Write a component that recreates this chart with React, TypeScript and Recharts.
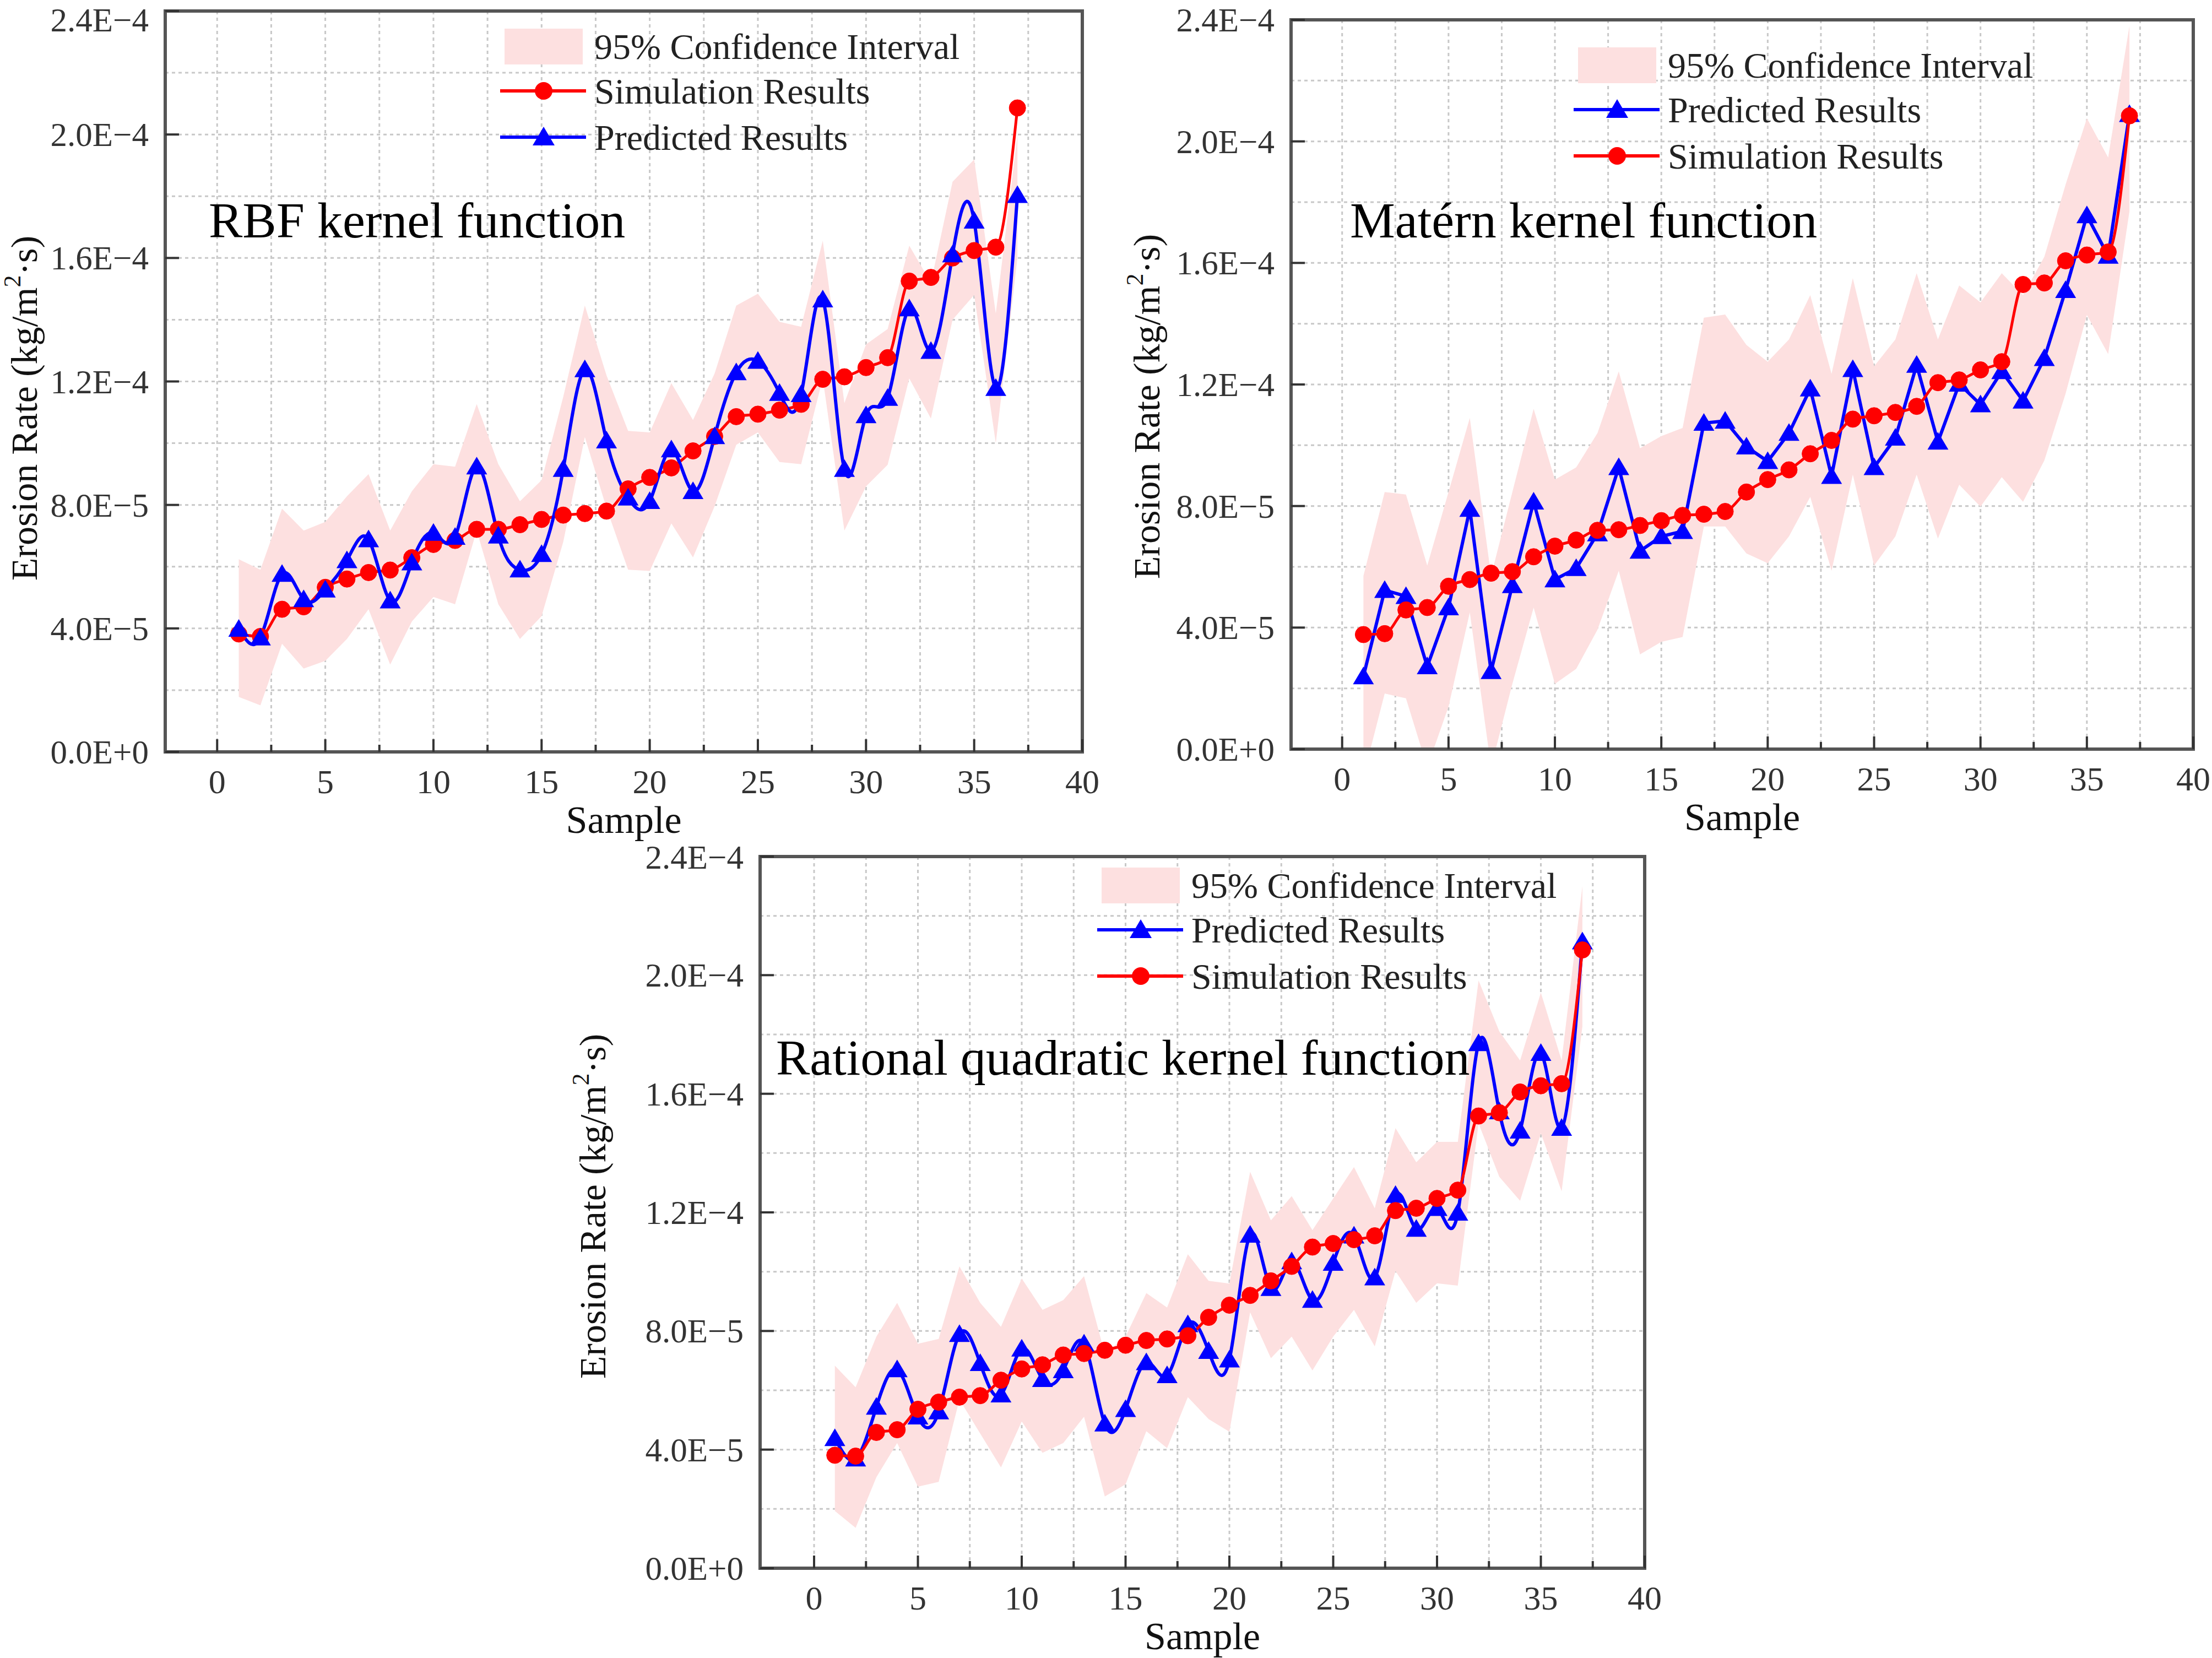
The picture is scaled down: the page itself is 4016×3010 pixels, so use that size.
import { Area, CartesianGrid, ComposedChart, Line, ReferenceArea, XAxis, YAxis } from 'recharts'

const serif = '"Liberation Serif", "Times New Roman", Times, serif'
const red = '#ff0000'
const blue = '#0000ff'
const pink = '#fde0e0'
const frameGray = '#555555'
const tickGray = '#333333'

// sample index on the x axis
const samples = [
  1, 2, 3, 4, 5, 6, 7, 8, 9, 10, 11, 12, 13, 14, 15, 16, 17, 18, 19, 20, 21, 22, 23, 24, 25, 26, 27,
  28, 29, 30, 31, 32, 33, 34, 35, 36, 37,
]

const xTicks = [0, 2.5, 5, 7.5, 10, 12.5, 15, 17.5, 20, 22.5, 25, 27.5, 30, 32.5, 35, 37.5, 40]
const xTickLabels = ['0', '5', '10', '15', '20', '25', '30', '35', '40']
// y values are stored in units of 1E-5 kg/(m²·s)
const yTicks = [0, 2, 4, 6, 8, 10, 12, 14, 16, 18, 20, 22, 24]
const yTickLabels = ['0.0E+0', '4.0E−5', '8.0E−5', '1.2E−4', '1.6E−4', '2.0E−4', '2.4E−4']

const ciLabel = '95% Confidence Interval'
const simLabel = 'Simulation Results'
const predLabel = 'Predicted Results'

// RBF kernel
const rbfSim = [
  3.82, 3.74, 4.62, 4.7, 5.33, 5.6, 5.81, 5.89, 6.29, 6.72, 6.85, 7.21, 7.21, 7.36, 7.53, 7.67, 7.72,
  7.8, 8.52, 8.89, 9.2, 9.75, 10.22, 10.86, 10.94, 11.07, 11.26, 12.07, 12.15, 12.45, 12.77, 15.25,
  15.37, 16.0, 16.24, 16.35, 20.86,
]
const rbfPred = [
  3.98, 3.7, 5.76, 4.94, 5.25, 6.2, 6.88, 4.9, 6.13, 7.09, 6.96, 9.24, 7.0, 5.9, 6.4, 9.16, 12.39,
  10.08, 8.23, 8.12, 9.79, 8.44, 10.22, 12.29, 12.66, 11.62, 11.58, 14.65, 9.16, 10.9, 11.46, 14.36,
  12.98, 16.11, 17.2, 11.78, 18.03,
]
const rbfUpper = [
  6.24, 5.9, 7.88, 7.17, 7.45, 8.28, 9.0, 7.17, 8.44, 9.32, 9.24, 11.27, 9.32, 8.12, 8.8, 11.5, 14.46,
  12.2, 10.4, 10.35, 11.94, 10.75, 12.26, 14.46, 14.84, 13.93, 13.77, 16.56, 11.3, 13.2, 13.7, 16.4,
  15.2, 18.47, 19.19, 14.2, 20.0,
]
const rbfLower = [
  1.78, 1.51, 3.5, 2.7, 2.95, 3.66, 4.62, 2.83, 4.22, 5.02, 4.78, 7.17, 4.78, 3.66, 4.4, 6.8, 10.2,
  7.9, 5.9, 5.86, 7.4, 6.3, 7.96, 9.95, 10.35, 9.39, 9.32, 12.1, 7.17, 8.6, 9.3, 12.1, 10.8, 14.0,
  14.8, 10.0, 16.0,
]

// Matérn kernel
const maternSim = [
  3.77, 3.8, 4.58, 4.66, 5.36, 5.58, 5.79, 5.84, 6.33, 6.68, 6.88, 7.2, 7.22, 7.36, 7.52, 7.69, 7.73,
  7.82, 8.46, 8.87, 9.19, 9.72, 10.16, 10.86, 10.97, 11.08, 11.28, 12.06, 12.15, 12.48, 12.75, 15.29,
  15.34, 16.07, 16.26, 16.36, 20.84,
]
const maternPred = [
  2.39, 5.23, 5.03, 2.72, 4.66, 7.9, 2.56, 5.39, 8.14, 5.58, 5.95, 7.09, 9.27, 6.52, 7.0, 7.17, 10.73,
  10.8, 9.95, 9.47, 10.4, 11.86, 8.98, 12.5, 9.27, 10.24, 12.64, 10.11, 12.02, 11.34, 12.43, 11.46,
  12.86, 15.1, 17.56, 16.23, 20.89,
]
const maternUpper = [
  5.7, 8.46, 8.38, 6.04, 8.46, 10.9, 5.7, 8.46, 11.2, 8.87, 9.27, 10.4, 12.43, 9.9, 10.3, 10.57, 14.2,
  14.3, 13.3, 12.75, 13.48, 14.94, 12.35, 15.5, 12.6, 13.48, 15.66, 13.48, 15.26, 14.7, 15.66, 14.94,
  16.2, 18.58, 20.76, 19.47, 23.8,
]
const maternLower = [
  -0.9, 1.83, 1.67, -0.6, 1.4, 4.5, -0.6, 2.15, 4.66, 2.15, 2.64, 3.93, 5.87, 3.12, 3.53, 3.69, 7.33,
  7.33, 6.44, 6.12, 7.0, 8.3, 5.87, 9.03, 6.04, 7.0, 9.03, 6.93, 8.7, 7.98, 8.95, 8.14, 9.5, 11.7,
  14.29, 13.0, 17.7,
]

// Rational quadratic kernel
const rqSim = [
  3.81, 3.78, 4.58, 4.67, 5.36, 5.6, 5.77, 5.82, 6.34, 6.72, 6.86, 7.19, 7.24, 7.35, 7.52, 7.68, 7.73,
  7.84, 8.46, 8.87, 9.2, 9.69, 10.18, 10.83, 10.95, 11.08, 11.21, 12.06, 12.14, 12.47, 12.75, 15.25,
  15.36, 16.06, 16.27, 16.34, 20.85,
]
const rqPred = [
  4.38, 3.69, 5.44, 6.7, 5.11, 5.28, 7.89, 6.91, 5.85, 7.4, 6.37, 6.67, 7.57, 4.87, 5.36, 6.94, 6.5,
  8.22, 7.32, 7.03, 11.24, 9.44, 10.34, 9.04, 10.29, 11.21, 9.8, 12.58, 11.44, 12.14, 11.98, 17.7,
  15.4, 14.75, 17.37, 14.84, 21.13,
]
const rqUpper = [
  6.83, 6.1, 7.81, 8.95, 7.57, 7.73, 10.18, 8.95, 8.14, 9.77, 8.71, 9.04, 9.85, 7.24, 7.81, 9.28, 8.79,
  10.59, 9.69, 9.6, 13.37, 11.73, 12.55, 11.4, 12.47, 13.53, 12.14, 14.84, 13.69, 14.38, 14.38, 19.82,
  18.1, 17.12, 19.41, 17.12, 23.0,
]
const rqLower = [
  1.93, 1.36, 3.07, 4.22, 2.75, 2.91, 5.69, 4.54, 3.4, 4.95, 3.89, 4.22, 5.11, 2.42, 2.83, 4.62, 4.05,
  5.77, 5.03, 4.6, 8.63, 7.08, 7.81, 6.67, 7.81, 8.71, 7.48, 10.02, 8.95, 9.61, 9.53, 15.0, 13.2,
  12.39, 14.67, 12.71, 18.27,
]

const X_TICK_MARGIN = 33
const Y_TICK_MARGIN = 30

function XTick(props: any) {
  const { x, y, index } = props
  const axisY = y - X_TICK_MARGIN
  const major = index % 2 === 0
  return (
    <g>
      <line x1={x} x2={x} y1={axisY} y2={axisY - (major ? 23 : 13)} stroke={tickGray} strokeWidth={4} />
      {major && (
        <text x={x} y={y + 42} textAnchor="middle" fontFamily={serif} fontSize={62} fill={tickGray}>
          {xTickLabels[index / 2]}
        </text>
      )}
    </g>
  )
}

function YTick(props: any) {
  const { x, y, index } = props
  if (index % 2 !== 0) return <g />
  const axisX = x + Y_TICK_MARGIN
  // keep the top label inside the page
  const baseline = Math.max(y + 21, 57)
  return (
    <g>
      <line x1={axisX} x2={axisX + 25} y1={y} y2={y} stroke={tickGray} strokeWidth={4} />
      <text x={x} y={baseline} textAnchor="end" fontFamily={serif} fontSize={61} fill={tickGray}>
        {yTickLabels[index / 2]}
      </text>
    </g>
  )
}

function renderCircle(props: any) {
  const { cx, cy, index } = props
  if (cx == null || cy == null) return <g key={`c${index}`} />
  return <circle key={`c${index}`} cx={cx} cy={cy} r={15} fill={red} stroke={red} strokeWidth={1} />
}

function renderTriangle(props: any) {
  const { cx, cy, index } = props
  if (cx == null || cy == null) return <g key={`t${index}`} />
  return (
    <polygon
      key={`t${index}`}
      points={`${cx},${cy - 18} ${cx - 19},${cy + 14} ${cx + 19},${cy + 14}`}
      fill={blue}
    />
  )
}

function LegendBlock({ x, y, simFirst }: { x: number; y: number; simFirst: boolean }) {
  const lineRows = simFirst ? ['sim', 'pred'] : ['pred', 'sim']
  const rowY = [y + 81, y + 165]
  return (
    <g fontFamily={serif} fontSize={66} fill="#222">
      <rect x={x} y={y - 32} width={142} height={65} fill={pink} />
      <text x={x + 163} y={y + 23}>
        {ciLabel}
      </text>
      {lineRows.map((kind, i) => {
        const ly = rowY[i]
        const mx = x + 71
        const color = kind === 'sim' ? red : blue
        return (
          <g key={kind}>
            <line x1={x - 8} x2={x + 148} y1={ly} y2={ly} stroke={color} strokeWidth={6} />
            {kind === 'sim' ? (
              <circle cx={mx} cy={ly} r={16} fill={red} />
            ) : (
              <polygon points={`${mx},${ly - 19} ${mx - 20},${ly + 15} ${mx + 20},${ly + 15}`} fill={blue} />
            )}
            <text x={x + 163} y={ly + 23}>
              {kind === 'sim' ? simLabel : predLabel}
            </text>
          </g>
        )
      })}
    </g>
  )
}

type PanelProps = {
  left: number
  top: number
  width: number
  height: number
  plotLeft: number
  plotRight: number
  plotTop: number
  plotBottom: number
  xMin: number
  title: string
  titleX: number
  yLabelX: number
  yLabelY: number
  legendX: number
  legendY: number
  simFirst: boolean
  predCurve: 'natural' | 'linear'
  sim: number[]
  pred: number[]
  upper: number[]
  lower: number[]
}

function KernelPanel(p: PanelProps) {
  const rows = samples.map((n, i) => ({
    n,
    sim: p.sim[i],
    pred: p.pred[i],
    band: [p.lower[i], p.upper[i]],
  }))

  const simLine = (
    <Line
      key="sim"
      dataKey="sim"
      type="monotone"
      stroke={red}
      strokeWidth={5}
      dot={renderCircle}
      activeDot={false}
      isAnimationActive={false}
    />
  )
  const predLine = (
    <Line
      key="pred"
      dataKey="pred"
      type={p.predCurve}
      stroke={blue}
      strokeWidth={6}
      dot={renderTriangle}
      activeDot={false}
      isAnimationActive={false}
    />
  )

  return (
    <div style={{ position: 'absolute', left: p.left, top: p.top, width: p.width, height: p.height }}>
      <ComposedChart
        width={p.width}
        height={p.height}
        data={rows}
        margin={{ top: p.plotTop, right: p.width - p.plotRight, bottom: 0, left: 0 }}
      >
        <CartesianGrid stroke="#c8c8c8" strokeWidth={3} strokeDasharray="6 6" />
        <XAxis
          type="number"
          dataKey="n"
          domain={[p.xMin, 40]}
          ticks={xTicks}
          interval={0}
          height={p.height - p.plotBottom}
          tickSize={0}
          tickMargin={X_TICK_MARGIN}
          axisLine={false}
          tick={XTick}
          allowDataOverflow
        />
        <YAxis
          type="number"
          domain={[0, 24]}
          ticks={yTicks}
          interval={0}
          width={p.plotLeft}
          tickSize={0}
          tickMargin={Y_TICK_MARGIN}
          axisLine={false}
          tick={YTick}
          allowDataOverflow
        />
        <Area
          dataKey="band"
          type="linear"
          stroke="none"
          fill={pink}
          fillOpacity={1}
          dot={false}
          activeDot={false}
          isAnimationActive={false}
        />
        {p.simFirst ? [simLine, predLine] : [predLine, simLine]}
        <ReferenceArea
          x1={p.xMin}
          x2={40}
          y1={0}
          y2={24}
          fill="none"
          fillOpacity={0}
          stroke={frameGray}
          strokeWidth={6}
          ifOverflow="visible"
        />
      </ComposedChart>
      <svg
        width={p.width}
        height={p.height}
        style={{ position: 'absolute', left: 0, top: 0, pointerEvents: 'none', overflow: 'visible' }}
      >
        <text x={p.titleX} y={431} fontFamily={serif} fontSize={92} fill="#000">
          {p.title}
        </text>
        <text
          transform={`translate(${p.yLabelX}, ${p.yLabelY}) rotate(-90)`}
          textAnchor="middle"
          dominantBaseline="central"
          fontFamily={serif}
          fontSize={68}
          fill="#111"
        >
          Erosion Rate (kg/m
          <tspan dy={-22} fontSize={44}>
            2
          </tspan>
          <tspan dy={22}>·s)</tspan>
        </text>
        <text
          x={(p.plotLeft + p.plotRight) / 2}
          y={p.plotBottom + 147}
          textAnchor="middle"
          fontFamily={serif}
          fontSize={70}
          fill="#111"
        >
          Sample
        </text>
        <LegendBlock x={p.legendX} y={p.legendY} simFirst={p.simFirst} />
      </svg>
    </div>
  )
}

export default function App() {
  return (
    <div style={{ position: 'absolute', left: 0, top: 0, width: 4016, height: 3010, background: '#fff' }}>
      <KernelPanel
        left={0}
        top={0}
        width={2010}
        height={1560}
        plotLeft={300}
        plotRight={1965}
        plotTop={20}
        plotBottom={1365}
        xMin={-2.4}
        title="RBF kernel function"
        titleX={379}
        yLabelX={44}
        yLabelY={741}
        legendX={916}
        legendY={84}
        simFirst={true}
        predCurve="natural"
        sim={rbfSim}
        pred={rbfPred}
        upper={rbfUpper}
        lower={rbfLower}
      />
      <KernelPanel
        left={2010}
        top={0}
        width={2006}
        height={1560}
        plotLeft={334}
        plotRight={1972}
        plotTop={36}
        plotBottom={1360}
        xMin={-2.4}
        title="Matérn kernel function"
        titleX={441}
        yLabelX={72}
        yLabelY={738}
        legendX={855}
        legendY={118}
        simFirst={false}
        predCurve="linear"
        sim={maternSim}
        pred={maternPred}
        upper={maternUpper}
        lower={maternLower}
      />
      <KernelPanel
        left={1000}
        top={1520}
        width={2016}
        height={1490}
        plotLeft={380}
        plotRight={1986}
        plotTop={35}
        plotBottom={1327}
        xMin={-2.6}
        title="Rational quadratic kernel function"
        titleX={409}
        yLabelX={76}
        yLabelY={670}
        legendX={1000}
        legendY={87}
        simFirst={false}
        predCurve="natural"
        sim={rqSim}
        pred={rqPred}
        upper={rqUpper}
        lower={rqLower}
      />
    </div>
  )
}
